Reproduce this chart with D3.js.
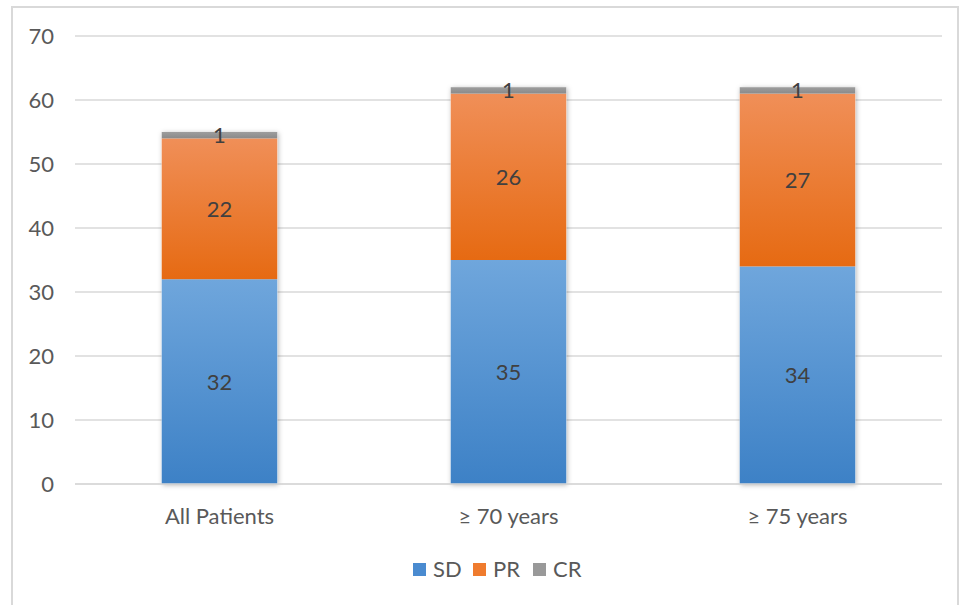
<!DOCTYPE html>
<html>
<head>
<meta charset="utf-8">
<script src="https://d3js.org/d3.v7.min.js"></script>
<style>
  body { margin: 0; background: #fff; }
  text { font-family: Lato, "Open Sans", sans-serif; fill: #595959; }
  .grid line { stroke: #d9d9d9; stroke-width: 1.5px; }
</style>
</head>
<body>
<svg id="chart" width="970" height="605"></svg>
<script>
// ---- data ----
const categories = ["All Patients", "\u2265 70 years", "\u2265 75 years"];
const seriesNames = ["SD", "PR", "CR"];
const sdValues = [32, 35, 34];
const prValues = [22, 26, 27];
const crValues = [1, 1, 1];
const yTicks = [0, 10, 20, 30, 40, 50, 60, 70];

// gradient stops per series (top, bottom)
const seriesColors = {
  SD: ["#6fa6dc", "#3d81c6"],
  PR: ["#f08f58", "#e66a12"],
  CR: ["#9d9d9d", "#8a8a8a"]
};
const legendColors = { SD: "#4a8bd0", PR: "#ef7b2e", CR: "#999999" };

const svg = d3.select("#chart");

// outer frame
svg.append("rect")
   .attr("x", 12).attr("y", 7).attr("width", 946).attr("height", 620)
   .attr("fill", "none").attr("stroke", "#d9d9d9").attr("stroke-width", 2);

const defs = svg.append("defs");
seriesNames.forEach(s => {
  let g = defs.append("linearGradient").attr("id", "grad-" + s)
              .attr("x1", 0).attr("y1", 0).attr("x2", 0).attr("y2", 1);
  g.append("stop").attr("offset", "0%").attr("stop-color", seriesColors[s][0]);
  g.append("stop").attr("offset", "100%").attr("stop-color", seriesColors[s][1]);
});
defs.append("filter").attr("id", "shadow")
    .attr("x", "-20%").attr("y", "-20%").attr("width", "140%").attr("height", "140%")
    .append("feDropShadow")
    .attr("dx", 1).attr("dy", 1).attr("stdDeviation", 2.5)
    .attr("flood-color", "#000").attr("flood-opacity", 0.3);

// scales
const x = d3.scaleBand().domain(categories).range([75, 942])
            .paddingInner(0.6).paddingOuter(0.3);
const y = d3.scaleLinear().domain([0, 70]).range([484, 36]);

// gridlines
svg.append("g").attr("class", "grid")
   .selectAll("line").data(yTicks).join("line")
   .attr("x1", 75).attr("x2", 942)
   .attr("y1", d => y(d)).attr("y2", d => y(d));

// y tick labels
svg.append("g").selectAll("text").data(yTicks).join("text")
   .attr("x", 54).attr("y", d => y(d)).attr("dy", "0.36em")
   .attr("text-anchor", "end").attr("font-size", 22)
   .text(d => d);

// stack
const rows = categories.map((c, i) => ({ cat: c, SD: sdValues[i], PR: prValues[i], CR: crValues[i] }));
const stacked = d3.stack().keys(seriesNames)(rows);

// shadows drawn under all bars first
const shadowG = svg.append("g");
shadowG.selectAll("rect").data(rows).join("rect")
   .attr("x", d => x(d.cat)).attr("width", x.bandwidth())
   .attr("y", d => y(d.SD + d.PR + d.CR))
   .attr("height", d => y(0) - y(d.SD + d.PR + d.CR))
   .attr("fill", "#fff").attr("filter", "url(#shadow)");

const barG = svg.append("g");
const layers = barG.selectAll("g.layer").data(stacked).join("g")
   .attr("class", "layer");

layers.each(function(layer) {
  d3.select(this).selectAll("rect").data(layer).join("rect")
    .attr("x", d => x(d.data.cat))
    .attr("width", x.bandwidth())
    .attr("y", d => y(d[1]))
    .attr("height", d => y(d[0]) - y(d[1]))
    .attr("fill", "url(#grad-" + layer.key + ")");
});

// baseline over bars
svg.append("line").attr("x1", 75).attr("x2", 942)
   .attr("y1", y(0)).attr("y2", y(0))
   .attr("stroke", "#d9d9d9").attr("stroke-width", 1.5);

// data labels
const labelG = svg.append("g");
stacked.forEach(layer => {
  labelG.append("g").selectAll("text").data(layer).join("text")
    .attr("x", d => x(d.data.cat) + x.bandwidth() / 2)
    .attr("y", d => y((d[0] + d[1]) / 2))
    .attr("dy", "0.36em")
    .attr("text-anchor", "middle").attr("font-size", 22)
    .style("fill", "#404040")
    .text(d => d.data[layer.key]);
});

// category labels
svg.append("g").selectAll("text").data(categories).join("text")
   .attr("x", d => x(d) + x.bandwidth() / 2).attr("y", 524)
   .attr("text-anchor", "middle").attr("font-size", 22)
   .text(d => d);

// legend
const legendX = [413, 473, 533];
const legend = svg.append("g").selectAll("g").data(seriesNames).join("g")
   .attr("transform", (d, i) => `translate(${legendX[i]},563)`);
legend.append("rect").attr("width", 13).attr("height", 13)
      .attr("fill", d => legendColors[d]);
legend.append("text").attr("x", 20).attr("y", 14)
      .attr("font-size", 22).text(d => d);
</script>
</body>
</html>
